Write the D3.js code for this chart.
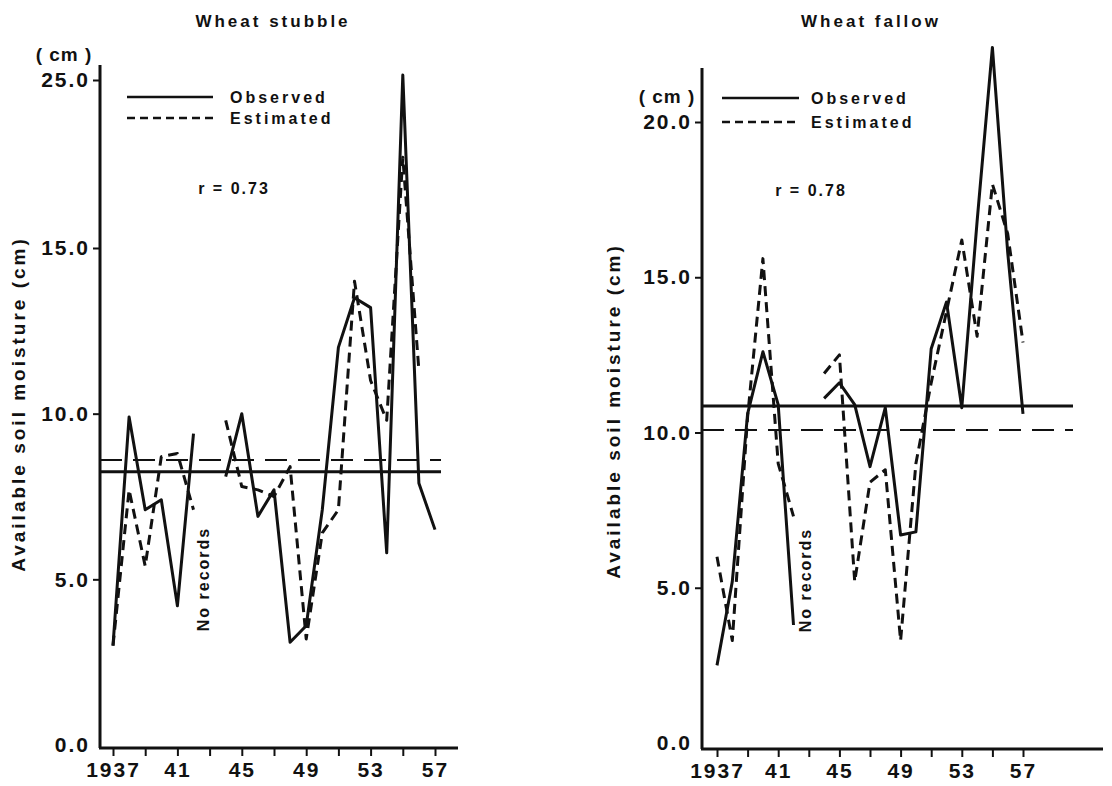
<!DOCTYPE html>
<html>
<head>
<meta charset="utf-8">
<script src="https://cdn.jsdelivr.net/npm/d3@7/dist/d3.min.js"></script>
<style>
  html, body { margin: 0; padding: 0; background: #fff; }
  svg text { font-family: "Liberation Sans", Arial, Helvetica, sans-serif; font-weight: bold; fill: #111; }
</style>
</head>
<body>
<svg id="chart" width="1112" height="786"></svg>
<script>
// ---------------- data ----------------
const years = [1937,1938,1939,1940,1941,1942,1943,1944,1945,1946,1947,1948,1949,1950,1951,1952,1953,1954,1955,1956,1957];

const stubbleObserved  = [3.0, 9.9, 7.1, 7.4, 4.2, 9.4, null, 8.1, 10.0, 6.9, 7.7, 3.1, 3.6, 7.1, 12.0, 13.5, 13.2, 5.8, 25.3, 7.9, 6.5];
const stubbleEstimated = [3.0, 7.7, 5.4, 8.7, 8.8, 7.1, null, 9.8, 7.8, 7.7, 7.5, 8.4, 3.2, 6.4, 7.1, 14.0, 11.0, 9.8, 20.4, 11.3, null];
const stubbleMeanObserved = 8.25;
const stubbleMeanEstimated = 8.6;

const fallowObserved  = [2.5, 5.2, 10.6, 12.6, 10.9, 3.8, null, 11.1, 11.6, 10.9, 8.9, 10.8, 6.7, 6.8, 12.7, 14.2, 10.8, 16.8, 22.4, 15.8, 10.6];
const fallowEstimated = [6.0, 3.3, 10.5, 15.6, 9.0, 7.3, null, 11.9, 12.5, 5.2, 8.4, 8.8, 3.3, 9.0, 11.6, 13.9, 16.2, 13.1, 18.0, 16.4, 12.9];
const fallowMeanObserved = 10.85;
const fallowMeanEstimated = 10.08;

const xTickYears  = [1937,1939,1941,1943,1945,1947,1949,1951,1953,1955,1957];
const xLabelYears = [1937,1941,1945,1949,1953,1957];
const xLabelText  = ["1937","41","45","49","53","57"];

const stubbleYTicks = [0,5,10,15,25];
const fallowYTicks  = [0,5,10,15,20];

const titles = ["Wheat stubble","Wheat fallow"];
const rTexts = ["r = 0.73","r = 0.78"];
const legendLabels = ["Observed","Estimated"];
const yTitle = "Available soil moisture (cm)";
const unitText = "( cm )";
const noRecords = "No records";

// ---------------- layout ----------------
const svg = d3.select("#chart");

const panels = [
  {
    obs: stubbleObserved, est: stubbleEstimated,
    meanObs: stubbleMeanObserved, meanEst: stubbleMeanEstimated,
    yTicks: stubbleYTicks,
    x: d3.scaleLinear().domain([1937,1957]).range([113,435]),
    y: d3.scaleLinear().domain([0,15,25]).range([745,248,80]),
    axisX: 100, axisTop: 65, axisRight: 458, axisY: 748, meanRight: 441,
    title: titles[0], titleX: 273, titleY: 27,
    unitX: 64, unitY: 61,
    legX1: 127, legX2: 213, legTextX: 230, legY: [97,118],
    r: rTexts[0], rX: 234, rY: 194,
    yTitleX: 25, yTitleY: 404,
    noRecX: 209, noRecY: 579
  },
  {
    obs: fallowObserved, est: fallowEstimated,
    meanObs: fallowMeanObserved, meanEst: fallowMeanEstimated,
    yTicks: fallowYTicks,
    x: d3.scaleLinear().domain([1937,1957]).range([717,1023]),
    y: d3.scaleLinear().domain([0,20]).range([743,122]),
    axisX: 702, axisTop: 68, axisRight: 1103, axisY: 749, meanRight: 1073,
    title: titles[1], titleX: 871, titleY: 27,
    unitX: 667, unitY: 103,
    legX1: 722, legX2: 799, legTextX: 811, legY: [98,122],
    r: rTexts[1], rX: 811, rY: 196,
    yTitleX: 620, yTitleY: 411,
    noRecX: 811, noRecY: 580
  }
];

panels.forEach(p => {
  const g = svg.append("g");

  // axes lines
  g.append("line").attr("x1", p.axisX).attr("x2", p.axisX)
    .attr("y1", p.axisTop).attr("y2", p.axisY)
    .attr("stroke", "#111").attr("stroke-width", 3);
  g.append("line").attr("x1", p.axisX - 1).attr("x2", p.axisRight)
    .attr("y1", p.axisY).attr("y2", p.axisY)
    .attr("stroke", "#111").attr("stroke-width", 3);

  // y axis ticks + labels via d3 axis
  const yAxis = d3.axisLeft(p.y)
    .tickValues(p.yTicks)
    .tickFormat(d3.format(".1f"))
    .tickSize(7).tickPadding(3).tickSizeOuter(0);
  const ya = g.append("g").attr("transform", `translate(${p.axisX},0)`).call(yAxis);
  ya.select(".domain").remove();
  ya.selectAll(".tick line").attr("stroke", "#111").attr("stroke-width", 2)
    .filter(d => d === 0).remove();
  ya.selectAll(".tick text")
    .style("font-size", "21px").style("letter-spacing", "2px")
    .attr("fill", "#111");

  // x axis ticks + labels
  const xAxis = d3.axisBottom(p.x)
    .tickValues(xTickYears)
    .tickFormat(d => { const i = xLabelYears.indexOf(d); return i >= 0 ? xLabelText[i] : ""; })
    .tickSize(8).tickPadding(6).tickSizeOuter(0);
  const xa = g.append("g").attr("transform", `translate(0,${p.axisY})`).call(xAxis);
  xa.select(".domain").remove();
  xa.selectAll(".tick line").attr("stroke", "#111").attr("stroke-width", 2);
  xa.selectAll(".tick text")
    .style("font-size", "21px").style("letter-spacing", "2px")
    .attr("fill", "#111");

  // mean lines
  g.append("line").attr("x1", p.axisX).attr("x2", p.meanRight)
    .attr("y1", p.y(p.meanObs)).attr("y2", p.y(p.meanObs))
    .attr("stroke", "#111").attr("stroke-width", 3);
  g.append("line").attr("x1", p.axisX).attr("x2", p.meanRight)
    .attr("y1", p.y(p.meanEst)).attr("y2", p.y(p.meanEst))
    .attr("stroke", "#111").attr("stroke-width", 2)
    .attr("stroke-dasharray", "22,11");

  // data lines
  const line = d3.line()
    .defined(d => d.v != null)
    .x(d => p.x(d.yr))
    .y(d => p.y(d.v));
  const obsData = years.map((yr, i) => ({ yr, v: p.obs[i] }));
  const estData = years.map((yr, i) => ({ yr, v: p.est[i] }));

  g.append("path").datum(estData).attr("d", line)
    .attr("fill", "none").attr("stroke", "#111").attr("stroke-width", 3)
    .attr("stroke-dasharray", "10,6").attr("stroke-linejoin", "round");
  g.append("path").datum(obsData).attr("d", line)
    .attr("fill", "none").attr("stroke", "#111").attr("stroke-width", 3)
    .attr("stroke-linejoin", "round");

  // title
  g.append("text").attr("x", p.titleX).attr("y", p.titleY)
    .attr("text-anchor", "middle")
    .style("font-size", "17px").style("letter-spacing", "3px")
    .text(p.title);

  // unit label
  g.append("text").attr("x", p.unitX).attr("y", p.unitY)
    .attr("text-anchor", "middle")
    .style("font-size", "19px").style("letter-spacing", "1px")
    .text(unitText);

  // legend
  g.append("line").attr("x1", p.legX1).attr("x2", p.legX2)
    .attr("y1", p.legY[0]).attr("y2", p.legY[0])
    .attr("stroke", "#111").attr("stroke-width", 2.5);
  g.append("line").attr("x1", p.legX1).attr("x2", p.legX2)
    .attr("y1", p.legY[1]).attr("y2", p.legY[1])
    .attr("stroke", "#111").attr("stroke-width", 2.5)
    .attr("stroke-dasharray", "8,5");
  legendLabels.forEach((t, i) => {
    g.append("text").attr("x", p.legTextX).attr("y", p.legY[i])
      .attr("dy", "0.36em")
      .style("font-size", "16px").style("letter-spacing", "3px")
      .text(t);
  });

  // r value
  g.append("text").attr("x", p.rX).attr("y", p.rY)
    .attr("text-anchor", "middle")
    .style("font-size", "16px").style("letter-spacing", "2px")
    .text(p.r);

  // y axis title
  g.append("text")
    .attr("transform", `translate(${p.yTitleX},${p.yTitleY}) rotate(-90)`)
    .attr("text-anchor", "middle")
    .style("font-size", "19px").style("letter-spacing", "3px")
    .text(yTitle);

  // No records
  g.append("text")
    .attr("transform", `translate(${p.noRecX},${p.noRecY}) rotate(-90)`)
    .attr("text-anchor", "middle")
    .style("font-size", "16px").style("letter-spacing", "2px")
    .text(noRecords);
});
</script>
</body>
</html>
